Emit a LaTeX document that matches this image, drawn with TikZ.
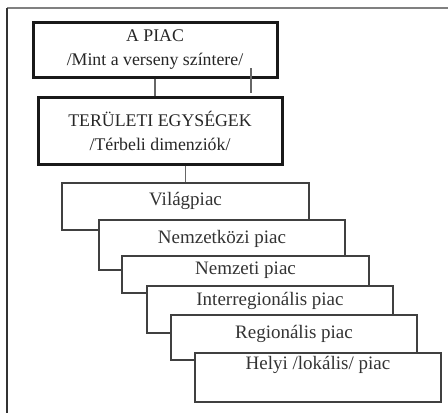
\documentclass[tikz,border=0pt]{standalone}
\usepackage{fontspec}
\setmainfont{Liberation Serif}
\begin{document}
\begin{tikzpicture}[x=1pt,y=-1pt,
  mainbox/.style={draw=black!90,line width=3pt,fill=white,inner sep=0pt,
    align=center,text=black!85,font=\fontsize{17.8}{24}\selectfont},
  stairbox/.style={draw=black!75,line width=2pt,fill=white,inner sep=0pt},
  stairtext/.style={text=black!80,font=\fontsize{19}{21}\selectfont,inner sep=0pt},
  link/.style={draw=black!60,line width=1.5pt}]
\useasboundingbox (0,0) rectangle (448,413);
% outer frame, running past the page edges
\begin{scope}
  \clip (0,0) rectangle (448,413);
  \draw[black!50,line width=2pt] (7,8) -- (460,8);
  \draw[black!80,line width=1.5pt] (7,8) -- (7,430);
\end{scope}

% upper levels
\node[mainbox,minimum width=244pt,minimum height=55pt] (piac) at (155,49.5)
  {A PIAC\\/Mint a verseny színtere/};
\node[mainbox,minimum width=244pt,minimum height=67pt] (teruleti) at (160,130.5)
  {TERÜLETI EGYSÉGEK\\/Térbeli dimenziók/};

% stacked market levels, each drawn over the previous one
\node[stairbox,minimum width=247pt,minimum height=47pt] (vilag) at (185.5,206.5) {};
\node[stairtext] (tvilag) at (185.5,201) {Világpiac};
\node[stairbox,minimum width=246pt,minimum height=50pt] (nemzetkozi) at (222,245) {};
\node[stairtext] (tnemzetkozi) at (222,238.5) {Nemzetközi piac};
\node[stairbox,minimum width=247pt,minimum height=37pt] (nemzeti) at (245.5,274.5) {};
\node[stairtext] (tnemzeti) at (245.5,270.5) {Nemzeti piac};
\node[stairbox,minimum width=246pt,minimum height=47pt] (interreg) at (270,309.5) {};
\node[stairtext] (tinterreg) at (270,300.5) {Interregionális piac};
\node[stairbox,minimum width=246pt,minimum height=45pt] (regionalis) at (294,337.5) {};
\node[stairtext] (tregionalis) at (294,333.5) {Regionális piac};
\node[stairbox,minimum width=246pt,minimum height=49pt] (helyi) at (318,377.5) {};
\node[stairtext] (thelyi) at (318,364.5) {Helyi /lokális/ piac};

% connectors
\draw[link] (piac.south) -- (piac.south |- teruleti.north);
\draw[link] (teruleti.south -| vilag.north) -- (vilag.north);
\coordinate (tickTop) at (251,68);
\coordinate (tickBot) at (251,93);
\draw[link] (tickTop) -- (tickBot);
\end{tikzpicture}
\end{document}
